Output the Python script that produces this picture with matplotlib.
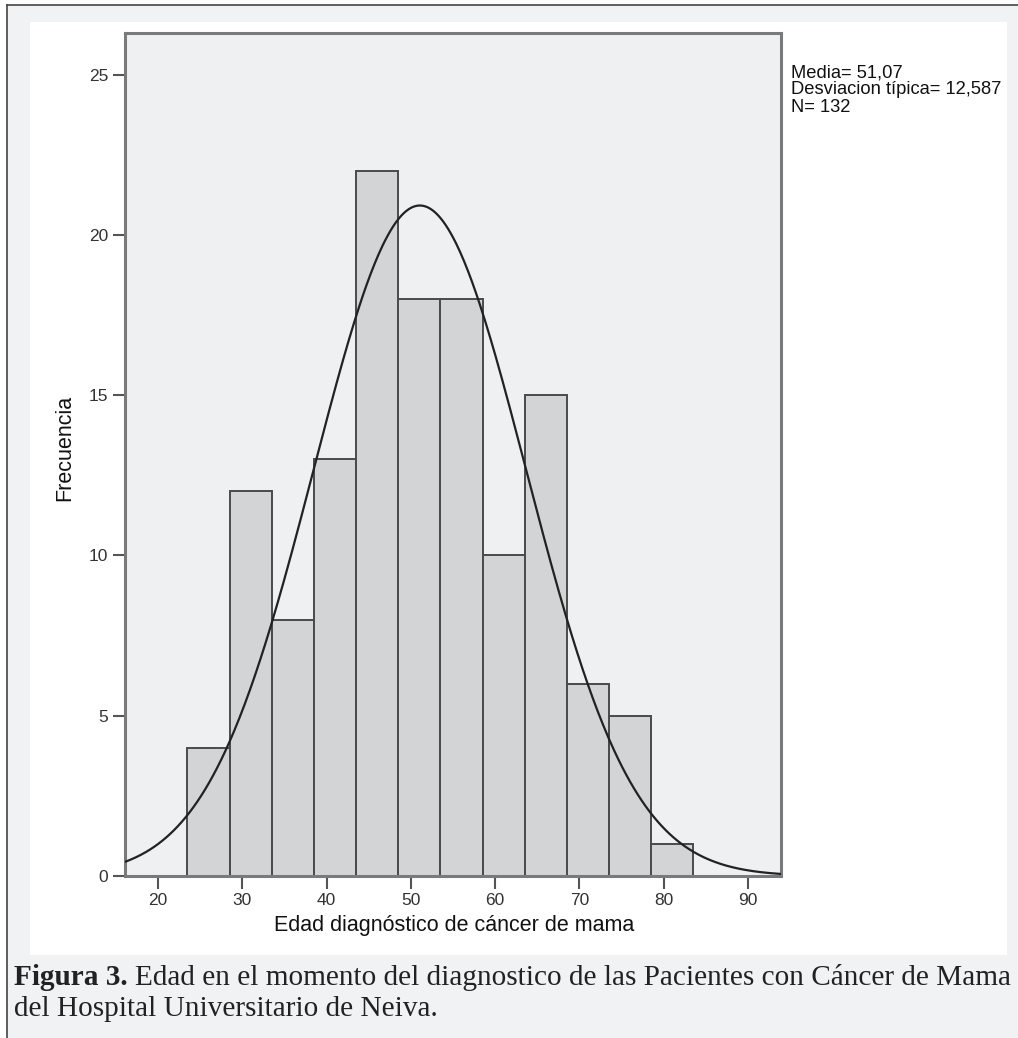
import numpy as np
import matplotlib
matplotlib.use('Agg')
import matplotlib.pyplot as plt
from matplotlib.patches import Rectangle
from matplotlib.lines import Line2D

# histogram data (bins of 5 years)
bin_edges = [23.5, 28.5, 33.5, 38.5, 43.5, 48.5, 53.5, 58.5, 63.5, 68.5, 73.5, 78.5, 83.5]
counts = [4, 12, 8, 13, 22, 18, 18, 10, 15, 6, 5, 1]
media = 51.07
desv = 12.587
n_total = 132

x_ticks = [20, 30, 40, 50, 60, 70, 80, 90]
y_ticks = [0, 5, 10, 15, 20, 25]

stats_lines = ['Media= 51,07', 'Desviacion típica= 12,587', 'N= 132']
x_label = 'Edad diagnóstico de cáncer de mama'
y_label = 'Frecuencia'
caption_bold = 'Figura 3. '
caption_1 = 'Edad en el momento del diagnostico de las Pacientes con Cáncer de Mama'
caption_2 = 'del Hospital Universitario de Neiva.'

W, H = 1018, 1038
sans = ['Liberation Sans', 'DejaVu Sans']
serif = ['Liberation Serif', 'DejaVu Serif']


def fx(x):
    return x / W


def fy(y):
    return 1 - y / H


fig = plt.figure(figsize=(W / 100, H / 100), dpi=100)
fig.patch.set_facecolor('white')

# page background, framed on top and left
fig.patches.append(Rectangle((fx(7), 0), 1 - fx(7), fy(5), transform=fig.transFigure,
                             facecolor='#f1f2f4', edgecolor='none', zorder=-2))
fig.lines.append(Line2D([fx(7), 1], [fy(5), fy(5)], transform=fig.transFigure, color='#444444', lw=1.2))
fig.lines.append(Line2D([fx(7), fx(7)], [0, fy(5)], transform=fig.transFigure, color='#444444', lw=1.2))
# white panel holding the chart
fig.patches.append(Rectangle((fx(30), fy(955)), fx(1007) - fx(30), fy(22) - fy(955),
                             transform=fig.transFigure, facecolor='white', edgecolor='none', zorder=-1))

ax = fig.add_axes([fx(125), fy(876), fx(781) - fx(125), fy(33) - fy(876)])
ax.set_zorder(1)
ax.set_facecolor('#eef0f2')

lefts = np.array(bin_edges[:-1])
widths = np.diff(bin_edges)
ax.bar(lefts, counts, width=widths, align='edge', color='#d3d4d6',
       edgecolor='#4a4a4a', linewidth=1.4, zorder=2)

xmin, xmax = 16.1, 93.9
xs = np.linspace(xmin, xmax, 500)
ys = n_total * 5 * np.exp(-0.5 * ((xs - media) / desv) ** 2) / (desv * np.sqrt(2 * np.pi))
ax.plot(xs, ys, color='#222222', lw=1.6, zorder=3)

ax.set_xlim(xmin, xmax)
ax.set_ylim(0, 26.3)
ax.set_xticks(x_ticks)
ax.set_yticks(y_ticks)
for sp in ax.spines.values():
    sp.set_color('#7a7a7a')
    sp.set_linewidth(2.2)
ax.tick_params(direction='out', length=9, width=1.5, color='#555555',
               labelcolor='#333333', labelsize=12.5, pad=3)
for lab in ax.get_xticklabels() + ax.get_yticklabels():
    lab.set_family(sans)

fig.text(fx(454), fy(926), x_label, ha='center', va='center', fontsize=15.5,
         family=sans, color='#111111')
fig.text(fx(65), fy(448), y_label, ha='center', va='center', rotation=90,
         fontsize=15.5, family=sans, color='#111111')
fig.text(fx(791), fy(64), '\n'.join(stats_lines), ha='left', va='top', fontsize=13.2,
         linespacing=1.03, family=sans, color='#111111')

# caption, sized so the first line spans the page width
t_b = fig.text(fx(14), fy(985), caption_bold, ha='left', va='baseline', fontsize=20,
               family=serif, weight='bold', color='#222222')
t_r = fig.text(0, fy(985), caption_1, ha='left', va='baseline', fontsize=20,
               family=serif, color='#222222')
t_2 = fig.text(fx(14), fy(1016), caption_2, ha='left', va='baseline', fontsize=20,
               family=serif, color='#222222')
r = fig.canvas.get_renderer()
wb = t_b.get_window_extent(r).width
wr = t_r.get_window_extent(r).width
s = 20 * (1010 - 14) / (wb + wr)
for t in (t_b, t_r, t_2):
    t.set_fontsize(s)
wb = t_b.get_window_extent(r).width
t_r.set_x(fx(14 + wb))

fig.savefig('out.png', dpi=100, facecolor=fig.get_facecolor())
